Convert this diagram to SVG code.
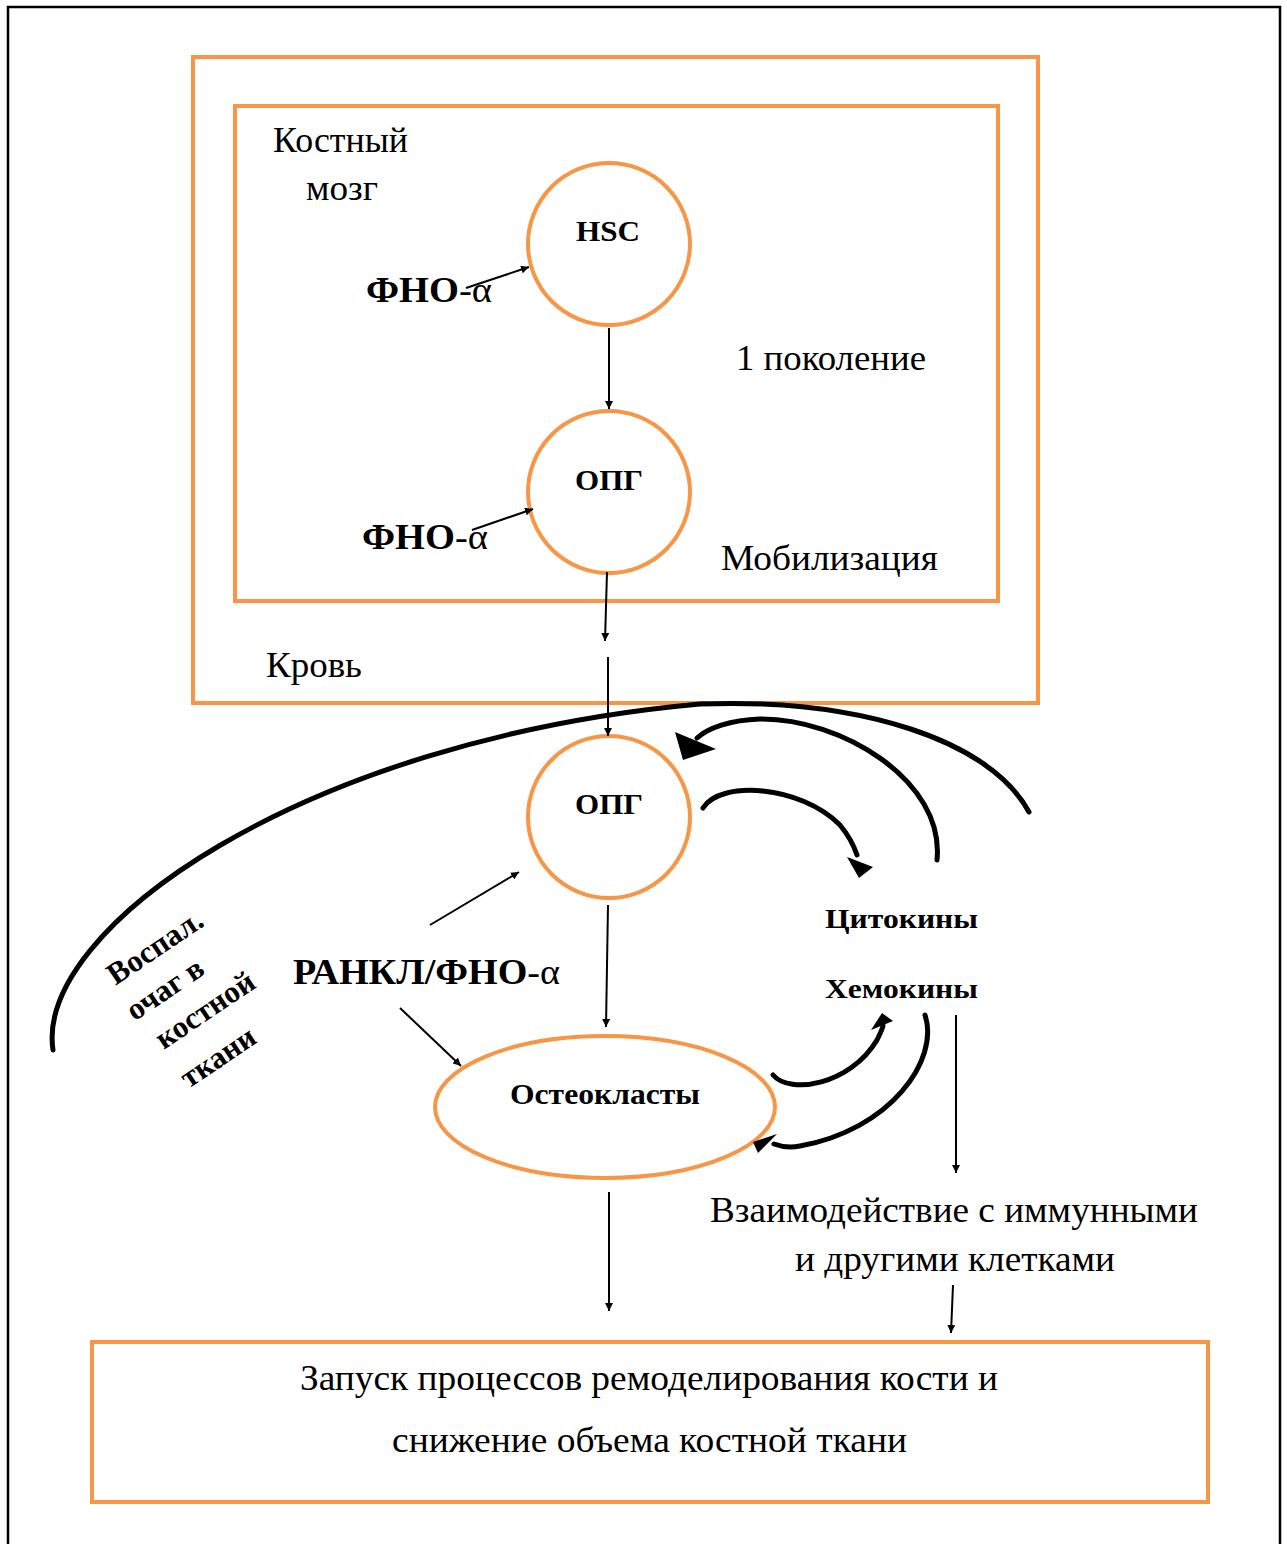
<svg xmlns="http://www.w3.org/2000/svg" width="1287" height="1544" viewBox="0 0 1287 1544">
<defs>
<style>
.box{fill:none;stroke:#F79646;stroke-width:4}
.t{font-family:"Liberation Serif","Times New Roman",serif;fill:#000}
.b{font-weight:bold}
.thin{fill:none;stroke:#000;stroke-width:2}
.thick{fill:none;stroke:#000;stroke-width:5;stroke-linecap:round}
</style>
<marker id="ah" viewBox="0 0 10 10" refX="10" refY="5" markerWidth="8" markerHeight="8" markerUnits="userSpaceOnUse" orient="auto">
<path d="M0,0 L10,5 L0,10 z" fill="#000"/>
</marker>
</defs>
<rect x="0" y="0" width="1287" height="1544" fill="#fff"/>
<rect x="8" y="7" width="1272" height="1560" fill="none" stroke="#000" stroke-width="2.5"/>

<g id="blood">
<rect class="box" x="193" y="57" width="845" height="646"/>
<text class="t" x="266" y="677" font-size="35" textLength="96" lengthAdjust="spacingAndGlyphs">Кровь</text>
</g>
<g id="bone-marrow">
<rect class="box" x="235" y="106" width="763" height="495"/>
<text class="t" x="273" y="152" font-size="35" textLength="135" lengthAdjust="spacingAndGlyphs">Костный</text>
<text class="t" x="306" y="200" font-size="35" textLength="72" lengthAdjust="spacingAndGlyphs">мозг</text>
<text class="t" x="736" y="370" font-size="35" textLength="190" lengthAdjust="spacingAndGlyphs">1 поколение</text>
<text class="t" x="721" y="570" font-size="35" textLength="217" lengthAdjust="spacingAndGlyphs">Мобилизация</text>
</g>
<g id="hsc">
<circle class="box" cx="609" cy="244" r="81"/>
<text class="t b" x="576" y="241" font-size="30" textLength="64" lengthAdjust="spacingAndGlyphs">HSC</text>
</g>
<g id="tnf1">
<text class="t" x="366" y="302" font-size="36" textLength="126" lengthAdjust="spacingAndGlyphs"><tspan class="b">ФНО</tspan>-α</text>
</g>
<g id="opg1">
<circle class="box" cx="609" cy="492" r="81"/>
<text class="t b" x="575" y="490" font-size="30" textLength="68" lengthAdjust="spacingAndGlyphs">ОПГ</text>
</g>
<g id="tnf2">
<text class="t" x="362" y="549" font-size="36" textLength="126" lengthAdjust="spacingAndGlyphs"><tspan class="b">ФНО</tspan>-α</text>
</g>
<g id="opg2">
<circle class="box" cx="609" cy="817" r="81"/>
<text class="t b" x="575" y="814" font-size="30" textLength="68" lengthAdjust="spacingAndGlyphs">ОПГ</text>
</g>
<g id="rankl">
<text class="t" x="293" y="984" font-size="36" textLength="267" lengthAdjust="spacingAndGlyphs"><tspan class="b">РАНКЛ/ФНО</tspan>-α</text>
</g>
<g id="cytokines">
<text class="t b" x="825" y="928" font-size="28" textLength="153" lengthAdjust="spacingAndGlyphs">Цитокины</text>
<text class="t b" x="825" y="998" font-size="28" textLength="153" lengthAdjust="spacingAndGlyphs">Хемокины</text>
</g>
<g id="osteoclasts">
<ellipse class="box" cx="605" cy="1107" rx="170" ry="71"/>
<text class="t b" x="510" y="1104" font-size="29" textLength="190" lengthAdjust="spacingAndGlyphs">Остеокласты</text>
</g>
<g id="inflammation">
<g transform="translate(155,947) rotate(-34)"><text class="t b" x="0" y="10" font-size="31" text-anchor="middle">Воспал.</text></g>
<g transform="translate(165,989) rotate(-34)"><text class="t b" x="0" y="10" font-size="31" text-anchor="middle">очаг в</text></g>
<g transform="translate(205,1010) rotate(-34)"><text class="t b" x="0" y="10" font-size="31" text-anchor="middle">костной</text></g>
<g transform="translate(218,1057) rotate(-34)"><text class="t b" x="0" y="10" font-size="31" text-anchor="middle">ткани</text></g>
</g>
<g id="interaction">
<text class="t" x="710" y="1222" font-size="35" textLength="488" lengthAdjust="spacingAndGlyphs">Взаимодействие с иммунными</text>
<text class="t" x="795" y="1271" font-size="35" textLength="320" lengthAdjust="spacingAndGlyphs">и другими клетками</text>
</g>
<g id="remodeling">
<rect class="box" x="92" y="1342" width="1116" height="160"/>
<text class="t" x="300" y="1390" font-size="35" textLength="698" lengthAdjust="spacingAndGlyphs">Запуск процессов ремоделирования кости и</text>
<text class="t" x="392" y="1452" font-size="35" textLength="515" lengthAdjust="spacingAndGlyphs">снижение объема костной ткани</text>
</g>

<g id="connectors">
<line class="thin" x1="466" y1="288" x2="529" y2="267" marker-end="url(#ah)"/>
<line class="thin" x1="609" y1="328" x2="609" y2="409" marker-end="url(#ah)"/>
<line class="thin" x1="472" y1="530" x2="533" y2="509" marker-end="url(#ah)"/>
<line class="thin" x1="607" y1="572" x2="605" y2="641" marker-end="url(#ah)"/>
<line class="thin" x1="608" y1="657" x2="608" y2="736" marker-end="url(#ah)"/>
<line class="thin" x1="430" y1="925" x2="519" y2="872" marker-end="url(#ah)"/>
<line class="thin" x1="608" y1="905" x2="606" y2="1027" marker-end="url(#ah)"/>
<line class="thin" x1="400" y1="1008" x2="461" y2="1066" marker-end="url(#ah)"/>
<line class="thin" x1="609" y1="1192" x2="609" y2="1311" marker-end="url(#ah)"/>
<line class="thin" x1="956" y1="1015" x2="956" y2="1173" marker-end="url(#ah)"/>
<line class="thin" x1="953" y1="1285" x2="951" y2="1333" marker-end="url(#ah)"/>

<path class="thick" d="M53,1050 C35,930 300,740 700,704 C860,698 990,740 1029,812"/>
<path class="thick" d="M937,860 C945,780 840,718 760,719 C730,720 708,728 697,738"/>
<polygon points="675,732 716,749 683,760" fill="#000"/>
<path class="thick" d="M703,808 C720,780 800,785 840,825 C849,836 854,846 857,855"/>
<polygon points="847,857 873,867 859,878" fill="#000"/>
<path class="thick" d="M773,1075 C790,1095 850,1085 877,1040 C880,1034 882,1030 883,1026"/>
<polygon points="871,1030 882,1013 893,1021" fill="#000"/>
<path class="thick" d="M925,1015 C940,1060 890,1130 800,1146 C790,1148 782,1147 774,1144"/>
<polygon points="777,1134 753,1142 758,1153" fill="#000"/>
</g>
</svg>
